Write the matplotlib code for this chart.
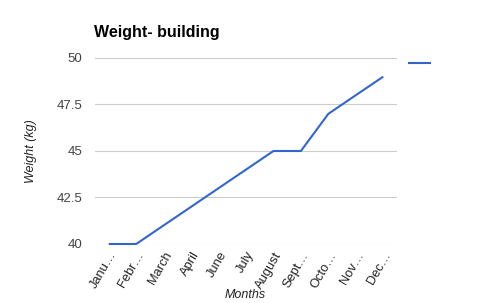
import matplotlib.pyplot as plt

months = ["Janu…", "Febr…", "March", "April", "June", "July",
          "August", "Sept…", "Octo…", "Nov…", "Dec…"]
weight = [40, 40, 41, 42, 43, 44, 45, 45, 47, 48, 49]
y_ticks = [40, 42.5, 45, 47.5, 50]
y_tick_labels = ["40", "42.5", "45", "47.5", "50"]

BLUE = "#3366cc"
plt.rcParams["font.family"] = ["Liberation Sans", "DejaVu Sans"]

fig = plt.figure(figsize=(4.9, 3.03), dpi=100)
ax = fig.add_axes([95 / 490, 59 / 303, 302 / 490, 186 / 303])

x = range(len(months))
line, = ax.plot(x, weight, color=BLUE, lw=1.5, solid_capstyle="butt", clip_on=False, zorder=3)

ax.set_xlim(-0.5, len(months) - 0.5)
ax.set_ylim(40, 50)
ax.set_yticks(y_ticks)
ax.set_yticklabels(y_tick_labels)
ax.set_xticks(list(x))
ax.set_xticklabels(months, rotation=60, ha="right", rotation_mode="anchor")
ax.tick_params(axis="y", length=0, pad=9, labelsize=9.5, labelcolor="#444444")
ax.tick_params(axis="x", length=0, pad=4, labelsize=9.3, labelcolor="#222222")
ax.grid(True, axis="y", color="#cccccc", lw=0.8)
ax.set_axisbelow(True)
for s in ax.spines.values():
    s.set_visible(False)

ax.set_ylabel("Weight (kg)", style="italic", fontsize=9, color="#222222", labelpad=14)
fig.text(245 / 490, 1 - 295 / 303, "Months", style="italic", fontsize=9, color="#222222",
         ha="center", va="center")
fig.text(94 / 490, 1 - 32 / 303, "Weight- building", fontsize=11.5, fontweight="bold",
         color="#000000", ha="left", va="center")

fig.legend([line], [" "], loc="upper left", bbox_to_anchor=(408 / 490, 1 - 58 / 303),
           frameon=False, handlelength=1.8, borderpad=0, borderaxespad=0,
           handletextpad=0.2, fontsize=9)

fig.savefig("out.png", dpi=100, facecolor="white")
